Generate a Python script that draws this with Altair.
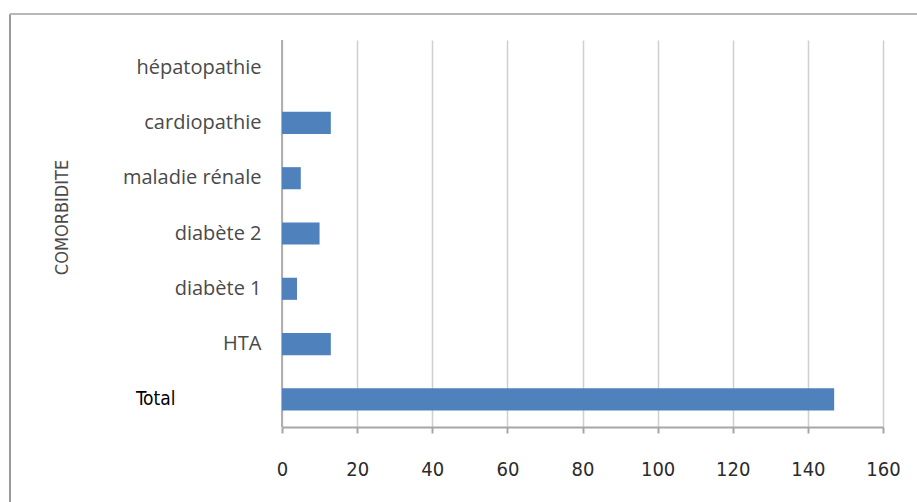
import altair as alt
import pandas as pd

# Comorbidity counts, top to bottom
categories = ["hépatopathie", "cardiopathie", "maladie rénale", "diabète 2", "diabète 1", "HTA", "Total"]
counts = [0, 13, 5, 10, 4, 13, 147]
x_ticks = [0, 20, 40, 60, 80, 100, 120, 140, 160]

df = pd.DataFrame({"comorbidite": categories, "n": counts})

NARROW_FONT = "Liberation Sans Narrow, DejaVu Sans Condensed, sans-serif"
GRAY_TEXT = "#4a4a4a"

bars = alt.Chart(df).mark_bar(color="#4F81BD").encode(
    x=alt.X(
        "n:Q",
        scale=alt.Scale(domain=[0, 160], nice=False),
        axis=alt.Axis(
            values=x_ticks,
            title=None,
            grid=True,
            gridColor="#cfcfcf",
            gridWidth=1.5,
            domainColor="#a6a6a6",
            domainWidth=2,
            tickColor="#a6a6a6",
            tickWidth=2,
            tickSize=6,
            labelFont=NARROW_FONT,
            labelFontSize=20,
            labelColor="#2b2b2b",
            labelPadding=26,
            labelFlush=False,
        ),
    ),
    y=alt.Y(
        "comorbidite:N",
        sort=categories,
        scale=alt.Scale(paddingInner=0.6, paddingOuter=0.3),
        axis=alt.Axis(
            title="COMORBIDITE",
            titleFont=NARROW_FONT,
            titleFontSize=18,
            titleFontWeight="normal",
            titleColor=GRAY_TEXT,
            titleAngle=270,
            titleX=-220,
            titleY=177,
            titleAlign="center",
            titleBaseline="middle",
            ticks=False,
            domain=False,
            labelFont=alt.ExprRef("datum.label == 'Total' ? 'Liberation Sans Narrow, DejaVu Sans Condensed, sans-serif' : 'Open Sans, sans-serif'"),
            labelFontSize=alt.ExprRef("datum.label == 'Total' ? 19 : 20"),
            labelColor=alt.ExprRef("datum.label == 'Total' ? '#000000' : '#4a4a4a'"),
            labelPadding=alt.ExprRef("datum.label == 'Total' ? 107 : 21"),
            labelLimit=300,
        ),
    ),
)

# Zero line on the left of the plot
zero_line = alt.Chart(df).mark_rule(color="#b0b0b0", strokeWidth=2).encode(
    x=alt.datum(0),
)

# Frame around the whole figure (left and top edges)
frame_left = alt.Chart(df).mark_rule(color="#9a9a9a", strokeWidth=2).encode(
    x=alt.value(-272), y=alt.value(-26), y2=alt.value(470)
)
frame_top = alt.Chart(df).mark_rule(color="#b8b8b8", strokeWidth=2).encode(
    x=alt.value(-272), x2=alt.value(700), y=alt.value(-26)
)

chart = alt.layer(zero_line, bars, frame_left, frame_top).properties(
    width=601,
    height=387,
    padding={"left": 282, "top": 40, "right": 34, "bottom": 75},
    autosize=alt.AutoSizeParams(type="none"),
    background="white",
).configure_view(stroke=None)

chart.save("out.html", embed_options={"renderer": "svg", "actions": False})
